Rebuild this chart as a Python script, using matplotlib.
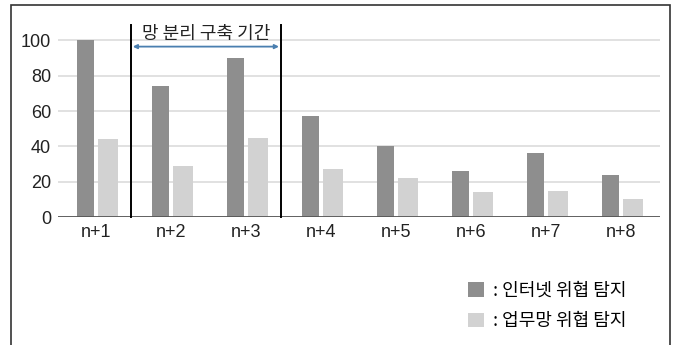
import matplotlib

matplotlib.use("Agg")
import matplotlib.pyplot as plt
from matplotlib.patches import Rectangle

plt.rcParams["font.family"] = ["Noto Sans CJK KR", "DejaVu Sans"]

categories = ["n+1", "n+2", "n+3", "n+4", "n+5", "n+6", "n+7", "n+8"]
internet = [100, 74, 90, 57, 40, 26, 36, 24]
work_net = [44, 29, 45, 27, 22, 14, 15, 10]
yticks = [0, 20, 40, 60, 80, 100]
period_label = "망 분리 구축 기간"
period_bounds = [0.46, 2.47]
legend_labels = [": 인터넷 위협 탐지", ": 업무망 위협 탐지"]

dark = "#8e8e8e"
light = "#d2d2d2"

fig = plt.figure(figsize=(6.77, 3.45), dpi=100)
ax = fig.add_axes([0.0857, 0.371, 0.889, 0.563])

x = list(range(len(categories)))
b1 = ax.bar([i - 0.14 for i in x], internet, width=0.22, color=dark, zorder=3)
b2 = ax.bar([i + 0.16 for i in x], work_net, width=0.26, color=light, zorder=3)

ax.set_xlim(-0.507, 7.52)
ax.set_ylim(0, 110)
ax.set_yticks(yticks)
ax.set_xticks(x)
ax.set_xticklabels(categories)
ax.tick_params(length=0, labelsize=13, colors="#222222", pad=5)
for lbl in ax.get_xticklabels() + ax.get_yticklabels():
    lbl.set_family(["Liberation Sans", "DejaVu Sans"])
for s in ax.spines.values():
    s.set_visible(False)
ax.grid(axis="y", color="#dcdcdc", linewidth=1.2, zorder=0)
ax.axhline(0, color="#555555", linewidth=2, zorder=4)

# construction period marker
for xb in period_bounds:
    ax.plot([xb, xb], [0, 108.5], color="black", linewidth=1.4, zorder=5, clip_on=False)
ax.annotate("", xy=(period_bounds[1] - 0.03, 96.5), xytext=(period_bounds[0] + 0.03, 96.5),
            arrowprops=dict(arrowstyle="<|-|>", color="#4a7fb0", lw=1.3,
                            mutation_scale=6, shrinkA=0, shrinkB=0), zorder=6)
ax.text(sum(period_bounds) / 2, 103.8, period_label, ha="center", va="center",
        fontsize=13, color="#222222")

# outer frame (open at the bottom)
fig.patches.append(Rectangle((11 / 677, -0.1), 659 / 677, 1.1 - 5 / 345,
                             transform=fig.transFigure, fill=False,
                             edgecolor="#333333", linewidth=1.2))

ax.legend([b1, b2], legend_labels, loc="center left", frameon=False,
          bbox_to_anchor=(452 / 677, 1 - 306 / 345), bbox_transform=fig.transFigure,
          handlelength=0.85, handleheight=0.85, handletextpad=0.5,
          labelspacing=0.7, fontsize=13)

fig.savefig("out.png")
plt.close(fig)
